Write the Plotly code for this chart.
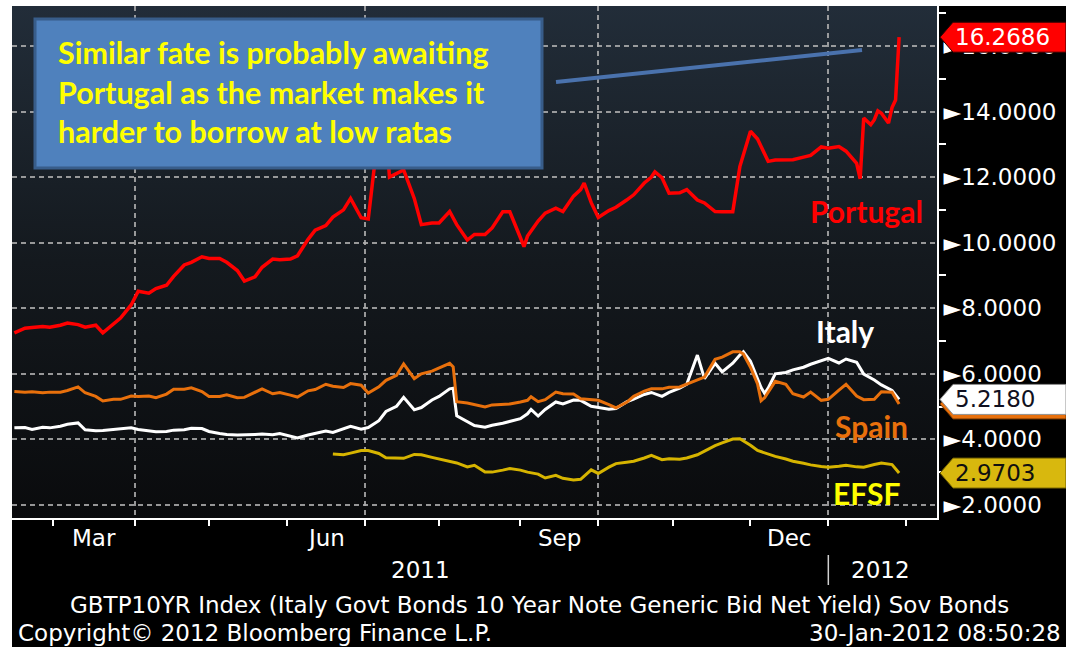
import base64
import plotly.graph_objects as go

# ---------------- data ----------------
pt_dates = [
    "2011-02-14", "2011-02-17", "2011-02-21", "2011-02-24", "2011-02-28",
    "2011-03-03", "2011-03-07", "2011-03-10", "2011-03-14", "2011-03-17", "2011-03-21", "2011-03-24", "2011-03-28", "2011-03-31",
    "2011-04-04", "2011-04-07", "2011-04-11", "2011-04-14", "2011-04-18", "2011-04-21", "2011-04-25", "2011-04-28",
    "2011-05-02", "2011-05-05", "2011-05-09", "2011-05-12", "2011-05-16", "2011-05-19", "2011-05-23", "2011-05-26", "2011-05-30",
    "2011-06-02", "2011-06-06", "2011-06-09", "2011-06-13", "2011-06-16", "2011-06-20", "2011-06-23", "2011-06-27", "2011-06-30",
    "2011-07-04", "2011-07-07", "2011-07-11", "2011-07-12", "2011-07-14", "2011-07-18", "2011-07-21", "2011-07-25", "2011-07-28",
    "2011-08-01", "2011-08-04", "2011-08-08", "2011-08-11", "2011-08-15", "2011-08-18", "2011-08-22", "2011-08-25", "2011-08-29",
    "2011-09-01", "2011-09-02", "2011-09-05", "2011-09-08", "2011-09-12", "2011-09-15", "2011-09-19", "2011-09-22", "2011-09-26", "2011-09-27", "2011-09-29",
    "2011-10-03", "2011-10-06", "2011-10-10", "2011-10-13", "2011-10-17", "2011-10-20", "2011-10-24", "2011-10-25", "2011-10-27", "2011-10-31",
    "2011-11-03", "2011-11-07", "2011-11-10", "2011-11-14", "2011-11-17", "2011-11-21", "2011-11-24", "2011-11-28",
    "2011-12-01", "2011-12-05", "2011-12-08", "2011-12-12", "2011-12-15", "2011-12-19", "2011-12-22", "2011-12-26", "2011-12-29",
    "2012-01-02", "2012-01-05", "2012-01-09", "2012-01-12", "2012-01-13", "2012-01-16", "2012-01-18", "2012-01-19", "2012-01-20",
    "2012-01-23", "2012-01-25", "2012-01-26", "2012-01-27", "2012-01-30",
]
pt_yield = [
    7.25, 7.39, 7.41, 7.44, 7.42,
    7.48, 7.55, 7.50, 7.42, 7.48, 7.25, 7.50, 7.70, 8.10,
    8.52, 8.46, 8.60, 8.70, 8.97, 9.32, 9.40, 9.57,
    9.52, 9.52, 9.40, 9.15, 8.83, 8.96, 9.25, 9.50, 9.48,
    9.50, 9.60, 10.10, 10.38, 10.52, 10.78, 11.00, 11.35, 10.76,
    10.72, 13.50, 13.40, 12.00, 12.10, 12.22, 11.35, 10.55, 10.60,
    10.60, 10.95, 10.55, 10.08, 10.25, 10.25, 10.45, 10.94, 10.94,
    10.15, 9.88, 10.20, 10.66, 10.90, 11.05, 10.95, 11.42, 11.62, 11.82, 11.22,
    10.77, 10.98, 11.08, 11.30, 11.46, 11.82, 12.00, 12.16, 11.98, 11.51,
    11.52, 11.62, 11.30, 11.21, 10.95, 10.94, 10.94, 12.32,
    13.40, 13.16, 12.48, 12.52, 12.52, 12.53, 12.61, 12.66, 12.92,
    12.88, 12.93, 12.79, 12.42, 11.95, 13.80, 13.60, 13.75, 14.02,
    13.95, 13.65, 14.12, 14.35, 16.2686,
]

is_dates = [
    "2011-02-14", "2011-02-17", "2011-02-21", "2011-02-24", "2011-02-28",
    "2011-03-03", "2011-03-07", "2011-03-10", "2011-03-14", "2011-03-17", "2011-03-21", "2011-03-24", "2011-03-28", "2011-03-31",
    "2011-04-04", "2011-04-07", "2011-04-11", "2011-04-14", "2011-04-18", "2011-04-21", "2011-04-25", "2011-04-28",
    "2011-05-02", "2011-05-05", "2011-05-09", "2011-05-12", "2011-05-16", "2011-05-19", "2011-05-23", "2011-05-26", "2011-05-30",
    "2011-06-02", "2011-06-06", "2011-06-09", "2011-06-13", "2011-06-16", "2011-06-20", "2011-06-23", "2011-06-27", "2011-06-30",
    "2011-07-04", "2011-07-07", "2011-07-11", "2011-07-14", "2011-07-18", "2011-07-21", "2011-07-25", "2011-07-28",
    "2011-08-01", "2011-08-04", "2011-08-05", "2011-08-08", "2011-08-11", "2011-08-15", "2011-08-18", "2011-08-22", "2011-08-25", "2011-08-29",
    "2011-09-01", "2011-09-05", "2011-09-06", "2011-09-08", "2011-09-12", "2011-09-15", "2011-09-19", "2011-09-22", "2011-09-26", "2011-09-29",
    "2011-10-03", "2011-10-06", "2011-10-10", "2011-10-13", "2011-10-17", "2011-10-20", "2011-10-24", "2011-10-27", "2011-10-31",
    "2011-11-03", "2011-11-07", "2011-11-10", "2011-11-14", "2011-11-17", "2011-11-21", "2011-11-24", "2011-11-28", "2011-11-29",
    "2011-12-01", "2011-12-05", "2011-12-06", "2011-12-07", "2011-12-08", "2011-12-12", "2011-12-15", "2011-12-19", "2011-12-22", "2011-12-26", "2011-12-29",
    "2012-01-02", "2012-01-05", "2012-01-09", "2012-01-12", "2012-01-16", "2012-01-19", "2012-01-23", "2012-01-26", "2012-01-30",
]
it_yield = [
    4.35, 4.36, 4.30, 4.37, 4.35,
    4.40, 4.46, 4.50, 4.29, 4.26, 4.27, 4.30, 4.30, 4.35,
    4.30, 4.26, 4.23, 4.24, 4.28, 4.29, 4.34, 4.33,
    4.24, 4.18, 4.15, 4.13, 4.13, 4.15, 4.16, 4.14, 4.18,
    4.10, 4.04, 4.13, 4.18, 4.25, 4.21, 4.32, 4.40, 4.31,
    4.36, 4.57, 4.85, 5.01, 5.28, 4.90, 4.97, 5.20,
    5.31, 5.54, 5.56, 4.72, 4.53, 4.42, 4.37, 4.43, 4.49, 4.54,
    4.63, 4.78, 4.91, 4.71, 4.91, 5.14, 5.08, 5.20, 5.19, 5.01,
    4.98, 4.92, 4.94, 5.14, 5.23, 5.37, 5.43, 5.31, 5.43,
    5.56, 5.68, 6.57, 5.85, 6.32, 6.06, 6.32, 6.57, 6.67,
    6.38, 5.85, 5.58, 5.40, 5.56, 6.00, 6.04, 6.12, 6.20, 6.29, 6.40,
    6.47, 6.33, 6.45, 6.35, 5.99, 5.81, 5.66, 5.49, 5.2180,
]
es_yield = [
    5.46, 5.44, 5.45, 5.42, 5.44,
    5.44, 5.49, 5.60, 5.42, 5.31, 5.17, 5.22, 5.22, 5.32,
    5.31, 5.32, 5.27, 5.38, 5.53, 5.53, 5.57, 5.46,
    5.31, 5.31, 5.36, 5.27, 5.28, 5.44, 5.54, 5.39, 5.43,
    5.35, 5.29, 5.48, 5.52, 5.68, 5.62, 5.58, 5.70, 5.65,
    5.41, 5.60, 5.80, 5.95, 6.30, 5.85, 6.00, 6.08,
    6.18, 6.32, 6.21, 5.15, 5.11, 5.07, 4.99, 5.05, 5.06, 5.08,
    5.14, 5.19, 5.30, 5.15, 5.21, 5.44, 5.39, 5.38, 5.24, 5.20,
    5.19, 5.06, 4.96, 5.13, 5.31, 5.47, 5.54, 5.54, 5.59,
    5.60, 5.69, 5.83, 5.90, 6.44, 6.51, 6.67, 6.67, 6.60,
    6.20, 5.69, 5.18, 5.27, 5.44, 5.77, 5.68, 5.39, 5.29, 5.44, 5.19,
    5.22, 5.50, 5.68, 5.32, 5.21, 5.22, 5.45, 5.44, 5.08,
]

efsf_dates = [
    "2011-06-20", "2011-06-23", "2011-06-27", "2011-06-30",
    "2011-07-04", "2011-07-07", "2011-07-11", "2011-07-14", "2011-07-18", "2011-07-21", "2011-07-25", "2011-07-28",
    "2011-08-01", "2011-08-04", "2011-08-08", "2011-08-11", "2011-08-15", "2011-08-18", "2011-08-22", "2011-08-25", "2011-08-29",
    "2011-09-01", "2011-09-05", "2011-09-08", "2011-09-12", "2011-09-15", "2011-09-19", "2011-09-22", "2011-09-26", "2011-09-29",
    "2011-10-03", "2011-10-06", "2011-10-10", "2011-10-13", "2011-10-17", "2011-10-20", "2011-10-24", "2011-10-27", "2011-10-31",
    "2011-11-03", "2011-11-07", "2011-11-10", "2011-11-14", "2011-11-17", "2011-11-21", "2011-11-24", "2011-11-28",
    "2011-12-01", "2011-12-05", "2011-12-08", "2011-12-12", "2011-12-15", "2011-12-19", "2011-12-22", "2011-12-26", "2011-12-29",
    "2012-01-02", "2012-01-05", "2012-01-09", "2012-01-12", "2012-01-16", "2012-01-19", "2012-01-23", "2012-01-26", "2012-01-30",
]
efsf_yield = [
    3.55, 3.53, 3.58, 3.66,
    3.66, 3.57, 3.44, 3.42, 3.42, 3.54, 3.53, 3.45,
    3.40, 3.34, 3.28, 3.16, 3.21, 3.00, 3.00, 3.06, 3.11,
    3.06, 3.00, 2.94, 2.82, 2.90, 2.81, 2.76, 2.78, 3.07,
    2.96, 3.15, 3.26, 3.30, 3.33, 3.43, 3.51, 3.38, 3.41,
    3.39, 3.43, 3.53, 3.64, 3.81, 3.89, 4.01, 4.02,
    3.82, 3.66, 3.55, 3.48, 3.40, 3.33, 3.27, 3.22, 3.17,
    3.15, 3.18, 3.21, 3.16, 3.15, 3.23, 3.28, 3.23, 2.9703,
]

# axis ticks / labels
y_ticks = [2, 4, 6, 8, 10, 12, 14, 16]
y_minor_ticks = [3, 5, 7, 9, 11, 13, 15, 17]
month_starts = ["2011-03-01", "2011-04-01", "2011-05-02", "2011-06-01", "2011-07-01", "2011-08-01",
                "2011-09-01", "2011-10-03", "2011-11-01", "2011-12-01", "2012-01-02", "2012-02-01"]
quarter_starts = ["2011-04-01", "2011-07-01", "2011-10-03", "2012-01-02"]
month_label_text = ["Mar", "Jun", "Sep", "Dec"]
month_label_dates = ["2011-03-16 12:00", "2011-06-16", "2011-09-16", "2011-12-16"]
year_break = "2012-01-02"

callout_lines = ["Similar fate is probably awaiting",
                 "Portugal as the market makes it",
                 "harder to borrow at low ratas"]
footer_title = "GBTP10YR Index (Italy Govt Bonds 10 Year Note Generic Bid Net Yield) Sov Bonds"
footer_copy = "Copyright\u00a9 2012 Bloomberg Finance L.P."
footer_time = "30-Jan-2012 08:50:28"

# ---------------- styling ----------------
RED = "#ff0000"
WHITE = "#ffffff"
ORANGE = "#e8700c"
GOLD = "#d6b400"
GRID = "rgba(175,175,175,0.85)"
AX_FONT = "DejaVu Sans"
LBL_FONT = "Lato"

W, H = 1075, 647
ML, MR, MT, MB = 12, 138, 6, 129
PW, PH = W - ML - MR, H - MT - MB


def px_x(px):
    return (px - ML) / PW


def px_y(py):
    return (H - MB - py) / PH


fig = go.Figure()
fig.add_trace(go.Scatter(x=pt_dates, y=pt_yield, mode="lines", name="Portugal",
                         line=dict(color=RED, width=3.5), hoverinfo="skip"))
fig.add_trace(go.Scatter(x=efsf_dates, y=efsf_yield, mode="lines", name="EFSF",
                         line=dict(color=GOLD, width=3), hoverinfo="skip"))
fig.add_trace(go.Scatter(x=is_dates, y=it_yield, mode="lines", name="Italy",
                         line=dict(color=WHITE, width=3), hoverinfo="skip"))
fig.add_trace(go.Scatter(x=is_dates, y=es_yield, mode="lines", name="Spain",
                         line=dict(color=ORANGE, width=3), hoverinfo="skip"))

# gradient plot background
svg = ("<svg xmlns='http://www.w3.org/2000/svg' width='10' height='100' viewBox='0 0 10 100' "
       "preserveAspectRatio='none'><defs><linearGradient id='g' x1='0' y1='0' x2='0' y2='1'>"
       "<stop offset='0' stop-color='#222d39'/><stop offset='0.5' stop-color='#14191e'/>"
       "<stop offset='1' stop-color='#0a0b0d'/></linearGradient></defs>"
       "<rect width='10' height='100' fill='url(#g)'/></svg>")
bg_src = "data:image/svg+xml;base64," + base64.b64encode(svg.encode()).decode()

shapes = []
annotations = []

# callout box and pointer
shapes.append(dict(type="rect", xref="paper", yref="paper", layer="above",
                   x0=px_x(35), x1=px_x(542), y0=px_y(168), y1=px_y(19),
                   fillcolor="#4f81bd", line=dict(color="#385d8a", width=3)))
shapes.append(dict(type="line", xref="paper", yref="paper", layer="above",
                   x0=px_x(556), y0=px_y(82), x1=px_x(862), y1=px_y(50),
                   line=dict(color="#4a72ad", width=4)))
for i, line in enumerate(callout_lines):
    annotations.append(dict(xref="paper", yref="paper", x=px_x(56), y=px_y(52 + 39.6 * i),
                            xanchor="left", yanchor="middle", showarrow=False, text=line,
                            font=dict(family=LBL_FONT, size=30.5, color="#ffff00", weight="bold")))

# last value tags (Spain first so Italy covers it)
tag_path = "M 3,0 L 16,15 L 129,15 L 129,-15 L 16,-15 Z"
tags = [
    (es_yield[-1], ORANGE, "#7a3a00", None, None),
    (it_yield[-1], WHITE, "#909090", "#101020", True),
    (efsf_yield[-1], "#d8b80e", "#6d5c00", "#101010", True),
    (pt_yield[-1], RED, "#300000", WHITE, True),
]
for val, fill, edge, tcolor, show in tags:
    shapes.append(dict(type="path", xref="paper", yref="y", xsizemode="pixel", ysizemode="pixel",
                       xanchor=1, yanchor=val, path=tag_path, layer="above",
                       fillcolor=fill, line=dict(color=edge, width=1)))
    if show:
        annotations.append(dict(xref="paper", yref="y", x=1, y=val, xshift=16, xanchor="left",
                                yanchor="middle", showarrow=False, text=f"{val:.4f}",
                                font=dict(family=AX_FONT, size=23, color=tcolor)))

# series labels
series_labels = [("Portugal", RED, 866, 211), ("Italy", WHITE, 845, 331),
                 ("Spain", ORANGE, 871, 426), ("EFSF", "#ffff00", 866, 493)]
for txt, col, lx, ly in series_labels:
    annotations.append(dict(xref="paper", yref="paper", x=px_x(lx), y=px_y(ly), showarrow=False,
                            xanchor="center", yanchor="middle", text=txt,
                            font=dict(family=LBL_FONT, size=30, color=col, weight="bold")))

# x month labels, years, separator
for txt, d in zip(month_label_text, month_label_dates):
    annotations.append(dict(xref="x", yref="paper", x=d, y=px_y(538), showarrow=False,
                            xanchor="center", yanchor="middle", text=txt,
                            font=dict(family=AX_FONT, size=23, color=WHITE)))
annotations.append(dict(xref="paper", yref="paper", x=px_x(420), y=px_y(570), showarrow=False,
                        xanchor="center", yanchor="middle", text="2011",
                        font=dict(family=AX_FONT, size=23, color=WHITE)))
annotations.append(dict(xref="paper", yref="paper", x=px_x(880), y=px_y(570), showarrow=False,
                        xanchor="center", yanchor="middle", text="2012",
                        font=dict(family=AX_FONT, size=23, color=WHITE)))
shapes.append(dict(type="line", xref="x", yref="paper", x0=year_break, x1=year_break,
                   y0=px_y(555), y1=px_y(585), line=dict(color="#d0d0d0", width=1.5)))

# footer
annotations.append(dict(xref="paper", yref="paper", x=px_x(539), y=px_y(605), showarrow=False,
                        xanchor="center", yanchor="middle", text=footer_title,
                        font=dict(family=AX_FONT, size=23, color=WHITE)))
annotations.append(dict(xref="paper", yref="paper", x=px_x(16), y=px_y(633), showarrow=False,
                        xanchor="left", yanchor="middle", text=footer_copy,
                        font=dict(family=AX_FONT, size=23, color=WHITE)))
annotations.append(dict(xref="paper", yref="paper", x=px_x(1063), y=px_y(633), showarrow=False,
                        xanchor="right", yanchor="middle", text=footer_time,
                        font=dict(family=AX_FONT, size=23, color=WHITE)))

# white page strips (top / left / right)
for x0, x1, y0, y1 in [(-0.05, 1.3, 1.0, 1.05), (-0.05, 0.0, -0.4, 1.05), (px_x(1066), 1.3, -0.4, 1.05)]:
    shapes.append(dict(type="rect", xref="paper", yref="paper", x0=x0, x1=x1, y0=y0, y1=y1,
                       fillcolor="white", line=dict(width=0), layer="above"))

fig.update_layout(
    width=W, height=H, autosize=False,
    margin=dict(l=ML, r=MR, t=MT, b=MB, pad=0),
    paper_bgcolor="black", plot_bgcolor="rgba(0,0,0,0)",
    showlegend=False,
    images=[dict(source=bg_src, xref="paper", yref="paper", x=0, y=1, sizex=1, sizey=1,
                 xanchor="left", yanchor="top", sizing="stretch", layer="below")],
    shapes=shapes, annotations=annotations,
    xaxis=dict(type="date", range=["2011-02-11 08:00", "2012-02-13 17:00"],
               rangebreaks=[dict(bounds=["sat", "mon"])],
               tickmode="array", tickvals=quarter_starts, ticktext=[""] * len(quarter_starts),
               ticks="outside", ticklen=6, tickwidth=1.5, tickcolor=WHITE,
               showgrid=True, gridcolor=GRID, gridwidth=2, griddash="5px,4px",
               showline=True, linecolor=WHITE, linewidth=2, zeroline=False, automargin=False,
               minor=dict(tickmode="array", tickvals=month_starts, ticks="outside", ticklen=6,
                          tickwidth=1.5, tickcolor=WHITE, showgrid=False)),
    yaxis=dict(side="right", range=[1.60, 17.22], tickmode="array", tickvals=y_ticks,
               ticktext=["\u25ba" + f"{v:.4f}" for v in y_ticks], ticks="",
               tickfont=dict(family=AX_FONT, size=23, color=WHITE),
               showgrid=True, gridcolor=GRID, gridwidth=2, griddash="5px,4px",
               showline=True, linecolor=WHITE, linewidth=2, zeroline=False, automargin=False,
               minor=dict(tickmode="array", tickvals=y_minor_ticks, ticks="outside", ticklen=7,
                          tickwidth=2, tickcolor=WHITE, showgrid=False)),
)

fig.write_html("out.html")
